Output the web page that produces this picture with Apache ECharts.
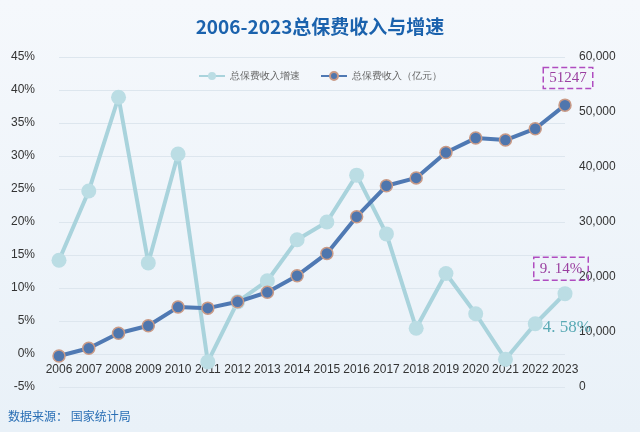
<!DOCTYPE html><html><head><meta charset="utf-8"><script src="https://cdn.jsdelivr.net/npm/echarts@6/dist/echarts.min.js"></script>
<style>html,body{margin:0;background:#eef4f9}#c{width:640px;height:432px}</style></head><body><div id="c"></div><script>
const years=['2006','2007','2008','2009','2010','2011','2012','2013','2014','2015','2016','2017','2018','2019','2020','2021','2022','2023'];
const growth=[14.2,24.7,38.9,13.8,30.3,-1.2,7.9,11.1,17.3,20.0,27.1,18.2,3.9,12.2,6.1,-0.8,4.58,9.14];
const revenue=[5641,7036,9784,11137,14528,14339,15488,17222,20235,24283,30959,36581,38017,42645,45257,44900,46957,51247];
const c=echarts.init(document.getElementById('c'));
const serif='"Liberation Serif","DejaVu Serif",serif';
const gData=growth.map((v,i)=>{
 if(i===16)return{value:v,label:{show:true,position:'right',distance:4,formatter:'4. 58%',color:'#5aaab5',fontSize:17,fontFamily:serif,offset:[-4,4]}};
 if(i===17)return{value:v,label:{show:true,position:'top',distance:6,formatter:'9. 14%',color:'#9a3fa0',fontSize:15,fontFamily:serif,borderColor:'#b04cc0',borderWidth:1.5,borderType:'dashed',padding:[4,6],offset:[-4,0]}};
 return v;});
const rData=revenue.map((v,i)=>i===17?{value:v,label:{show:true,position:'top',distance:10,formatter:'51247',color:'#9a3fa0',fontSize:15,fontFamily:serif,borderColor:'#b04cc0',borderWidth:1.5,borderType:'dashed',padding:[3,6],offset:[3,0]}}:v);
c.setOption({
 backgroundColor:{type:'linear',x:0,y:0,x2:0,y2:1,colorStops:[{offset:0,color:'#f5f8fc'},{offset:1,color:'#e9f1f8'}]},
 title:{text:'2006-2023总保费收入与增速',left:'center',top:12,textStyle:{color:'#1b62ad',fontSize:19,fontWeight:'bold',fontFamily:'"Noto Sans CJK SC",sans-serif'}},
 graphic:[{type:'text',left:8,top:410,style:{text:'数据来源： 国家统计局',fill:'#2a6fb5',fontSize:12,fontFamily:'"Noto Sans CJK SC",sans-serif'}}],
 legend:{top:66,left:'center',itemWidth:26,itemHeight:10,itemGap:20,textStyle:{fontSize:10,color:'#666'}},
 grid:{left:59,right:75,top:57,bottom:45},
 xAxis:{type:'category',data:years,boundaryGap:false,position:'bottom',offset:-31,axisLine:{show:false},axisTick:{show:false},axisLabel:{color:'#333',fontSize:12,interval:0,margin:8}},
 yAxis:[{type:'value',min:-5,max:45,interval:5,axisLabel:{formatter:'{value}%',color:'#333',fontSize:12,margin:24},splitLine:{lineStyle:{color:'#dde6ee'}},axisLine:{show:false}},
 {type:'value',min:0,max:60000,interval:10000,axisLabel:{formatter:v=>v===0?'0':v.toLocaleString('en-US'),color:'#333',fontSize:12,margin:14},splitLine:{show:false},axisLine:{show:false}}],
 series:[{name:'总保费收入增速',type:'line',yAxisIndex:0,data:gData,symbol:'circle',symbolSize:15,lineStyle:{color:'#a9d3dc',width:4},itemStyle:{color:'#bbdde4'},z:2},
 {name:'总保费收入（亿元）',type:'line',yAxisIndex:1,data:rData,symbol:'circle',symbolSize:12,lineStyle:{color:'#4f79b3',width:4},itemStyle:{color:'#4f76ad',borderColor:'#c99a86',borderWidth:1.5},z:3}]
});
</script></body></html>
